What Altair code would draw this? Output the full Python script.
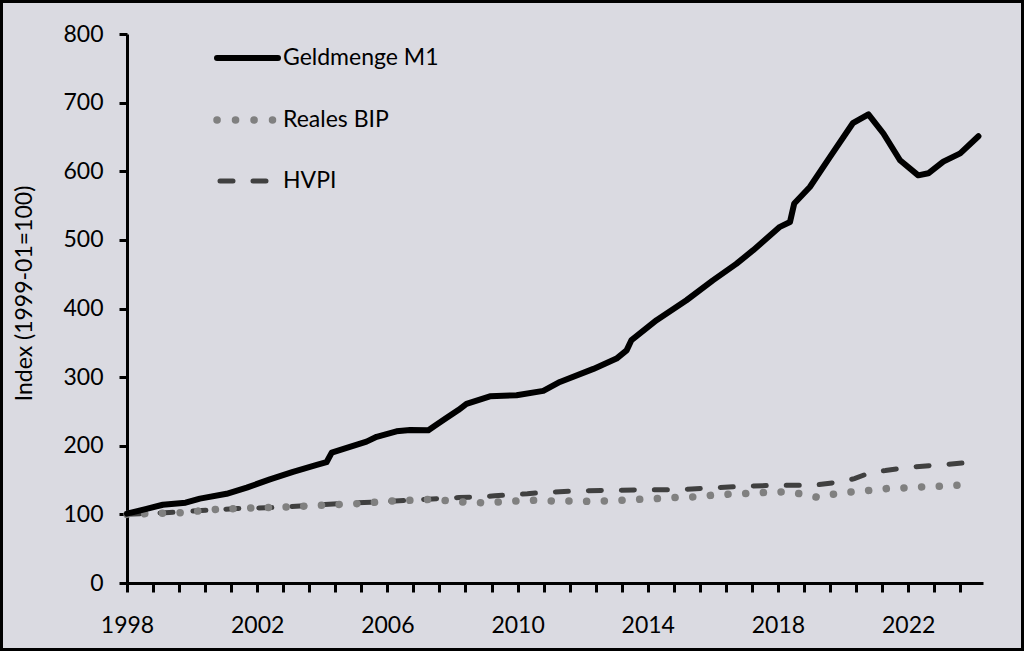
import altair as alt
import pandas as pd

# ---------------- data ----------------
m1_t = [1998.0, 1998.6, 1999.1, 1999.8, 2000.24, 2001.06, 2001.68, 2002.39, 2003.1, 2003.83,
        2004.13, 2004.29, 2004.75, 2005.36, 2005.67, 2006.28, 2006.7, 2007.26, 2007.46, 2007.8,
        2008.18, 2008.43, 2009.15, 2009.97, 2010.79, 2011.3, 2012.33, 2013.04, 2013.35, 2013.5,
        2014.27, 2015.19, 2016.0, 2016.72, 2017.24, 2018.06, 2018.37, 2018.5, 2018.98, 2019.6,
        2020.3, 2020.78, 2021.24, 2021.75, 2022.31, 2022.62, 2023.08, 2023.6, 2024.16]
m1_v = [101, 108, 114, 117, 123, 130, 139, 151, 162, 172,
        176, 190, 197, 206, 213, 221, 223, 222.6, 229, 240,
        252, 261, 272, 273.6, 280, 293, 312, 327, 339, 354,
        383, 412, 441, 465, 485, 519, 526, 553, 577, 621,
        670, 683, 655, 616, 594, 597, 614, 626, 651]

hvpi_t = [1998.0, 1999.3, 2000.45, 2001.4, 2002.5, 2003.5, 2004.55, 2005.6, 2006.65, 2007.6,
          2008.2, 2008.75, 2009.3, 2009.75, 2010.3, 2010.8, 2011.8, 2012.9, 2013.9, 2014.9,
          2015.95, 2017.0, 2018.0, 2019.1, 2019.85, 2020.35, 2020.9, 2021.3, 2022.1, 2023.1, 2024.1]
hvpi_v = [100, 102.6, 106, 108.5, 110, 112.8, 115.7, 118, 120.5, 123,
          124.5, 125.4, 127, 128.5, 130, 132, 134, 135, 136, 136,
          138.5, 141, 142.4, 142.4, 147, 152, 162, 164, 169, 172.6, 176.4]

bip_t = [1998.0, 1998.6, 1999.7, 2000.75, 2001.8, 2002.9, 2004.0, 2005.1, 2006.15, 2007.25,
         2007.8, 2008.35, 2008.9, 2009.4, 2009.95, 2010.5, 2011.05, 2011.6, 2012.1, 2012.7,
         2013.2, 2013.75, 2014.3, 2014.85, 2015.4, 2015.95, 2016.45, 2017.0, 2017.55, 2018.1,
         2018.65, 2019.2, 2019.7, 2020.25, 2020.8, 2021.35, 2021.9, 2022.4, 2022.95, 2023.5]
bip_v = [100, 101, 102.6, 107.4, 109.3, 110.8, 113.3, 115.7, 119.5, 121.6,
         120, 118, 117, 118, 119.5, 120.5, 119.5, 119.5, 119, 119.5,
         120.5, 122, 123, 124.5, 125.4, 127.8, 129.3, 130.3, 131.8, 132.7,
         130.3, 125, 129.3, 132.7, 135, 137.6, 138.5, 140, 141, 142.4]

series_names = ["Geldmenge M1", "Reales BIP", "HVPI"]
x_tick_values = [round(1998 + 0.8 * k, 1) for k in range(33)]
x_label_years = [1998, 2002, 2006, 2010, 2014, 2018, 2022]
y_tick_values = [0, 100, 200, 300, 400, 500, 600, 700, 800]
y_title = "Index (1999-01=100)"

# ---------------- styling ----------------
FONT = "Lato"
FS = 23
BG = "#dadae1"
W, H = 856, 549
PAD = {"left": 127, "top": 34, "right": 41, "bottom": 68}

df_m1 = pd.DataFrame({"t": m1_t, "v": m1_v})
df_hvpi = pd.DataFrame({"t": hvpi_t, "v": hvpi_v})
df_bip = pd.DataFrame({"t": bip_t, "v": bip_v})
one = pd.DataFrame({"a": [0]})

label_list = "[" + ",".join(str(y) for y in x_label_years) + "]"
x_enc = alt.X(
    "t:Q",
    scale=alt.Scale(domain=[1998, 2024.3], nice=False, zero=False),
    axis=alt.Axis(
        values=x_tick_values,
        labelExpr=f"indexof({label_list}, datum.value) >= 0 ? format(datum.value, 'd') : ''",
        title=None, grid=False, domainColor="black", domainWidth=3,
        tickColor="black", tickWidth=3, tickSize=9, labelFont=FONT, labelFontSize=FS,
        labelColor="black", labelPadding=22, labelFlush=False, labelOverlap=False,
    ),
)
y_enc = alt.Y(
    "v:Q",
    scale=alt.Scale(domain=[0, 800], nice=False),
    axis=alt.Axis(
        values=y_tick_values, format="d", title=y_title, grid=False,
        domainColor="black", domainWidth=3, tickColor="black", tickWidth=3, tickSize=8,
        labelFont=FONT, labelFontSize=FS, labelColor="black", labelPadding=16,
        titleFont=FONT, titleFontSize=FS, titleFontWeight="normal", titleColor="black",
        titleX=-103, titleY=259, titleAlign="center", titleBaseline="middle", titleAngle=270,
    ),
)

hvpi = alt.Chart(df_hvpi).mark_line(
    color="#404040", strokeWidth=5, strokeDash=[13, 20], strokeCap="round"
).encode(x=x_enc, y=y_enc)
bip = alt.Chart(df_bip).mark_line(
    color="#808080", strokeWidth=7.5, strokeDash=[0.1, 17.6], strokeCap="round"
).encode(x=x_enc, y=y_enc)
m1 = alt.Chart(df_m1).mark_line(
    color="black", strokeWidth=6, strokeCap="round", strokeJoin="round"
).encode(x=x_enc, y=y_enc)

# legend (inside plot, upper left)
leg_m1 = alt.Chart(one).mark_rule(color="black", strokeWidth=6, strokeCap="round").encode(
    x=alt.value(90), x2=alt.value(151), y=alt.value(24))
leg_bip = alt.Chart(one).mark_rule(color="#808080", strokeWidth=7.5, strokeDash=[0.1, 18.4],
                                   strokeCap="round").encode(
    x=alt.value(90), x2=alt.value(145.5), y=alt.value(86))
leg_hvpi = alt.Chart(one).mark_rule(color="#404040", strokeWidth=5, strokeDash=[13, 20],
                                    strokeCap="round").encode(
    x=alt.value(93), x2=alt.value(141), y=alt.value(147))
leg_texts = [
    alt.Chart(one).mark_text(align="left", baseline="middle", font=FONT, fontSize=FS,
                             color="black").encode(
        x=alt.value(156), y=alt.value(yy), text=alt.value(name))
    for name, yy in zip(series_names, [24, 86, 147])
]

border = alt.Chart(one).mark_rect(filled=False, stroke="black", strokeWidth=3).encode(
    x=alt.value(-125.5), x2=alt.value(W + PAD["right"] - 1.5),
    y=alt.value(-32.5), y2=alt.value(H + PAD["bottom"] - 1.5))

chart = alt.layer(
    hvpi, bip, m1, leg_m1, leg_bip, leg_hvpi, *leg_texts, border
).properties(
    width=W, height=H, padding=PAD, autosize=alt.AutoSizeParams(type="none"),
    background=BG,
).configure_view(stroke=None)

chart.save("out.html", embed_options={"renderer": "svg", "actions": False})
